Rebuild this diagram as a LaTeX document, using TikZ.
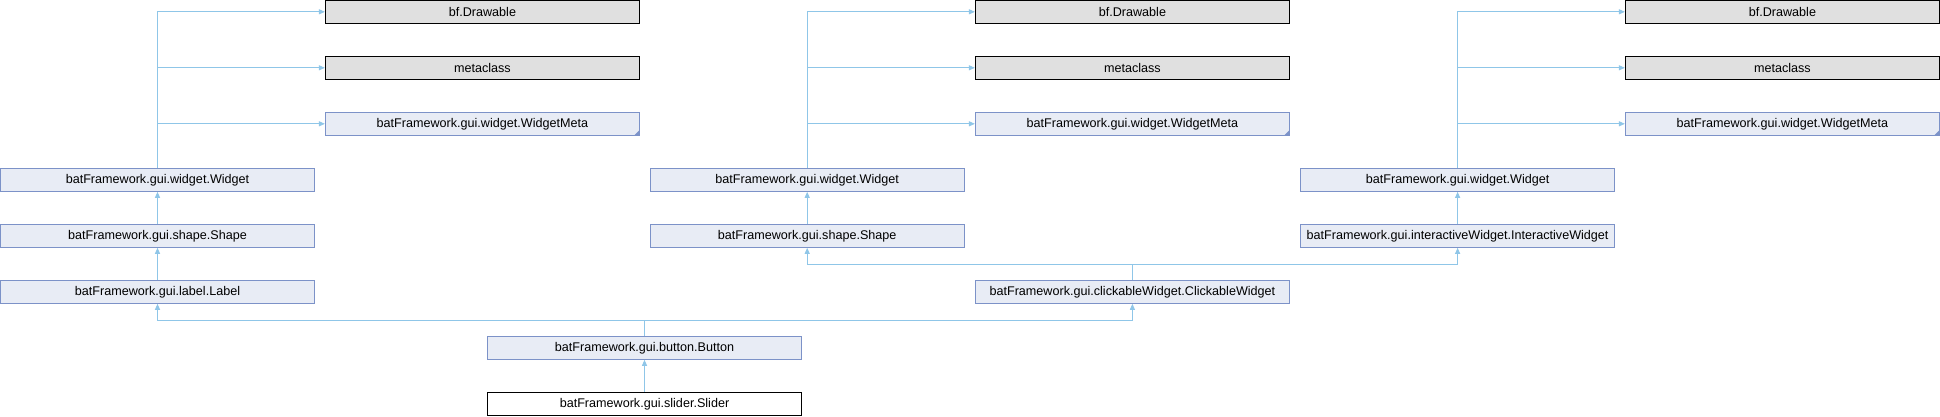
\documentclass[tikz,border=0pt]{standalone}
\usepackage{fontspec}
\setmainfont{Liberation Sans}
\usetikzlibrary{arrows.meta}
\definecolor{nodefill}{HTML}{E8ECF5}
\definecolor{nodeborder}{HTML}{7C92C8}
\definecolor{edgecol}{HTML}{8FC6E8}
\definecolor{extfill}{HTML}{E0E0E0}
\begin{document}
\begin{tikzpicture}[x=1pt,y=-1pt,
  box/.style={draw=nodeborder, fill=nodefill, line width=1pt, minimum width=314pt, minimum height=23pt, inner sep=0pt, font=\fontsize{12.6}{15}\selectfont},
  ext/.style={box, draw=black, fill=extfill},
  cur/.style={box, draw=black, fill=white},
  edge/.style={draw=edgecol, line width=1pt, -{Triangle[length=6pt,width=5pt]}},
  trunc/.style={fill=nodeborder}]
\useasboundingbox (0,0) rectangle (1940,416);

% left group
\node[ext] (d1) at (482.4,11.8) {bf.Drawable};
\node[ext] (m1) at (482.4,67.8) {metaclass};
\node[box] (wm1) at (482.4,123.8) {batFramework.gui.widget.WidgetMeta};
\node[box] (w1) at (157.5,179.8) {batFramework.gui.widget.Widget};
\node[box] (s1) at (157.5,235.8) {batFramework.gui.shape.Shape};
\node[box] (lab) at (157.5,291.8) {batFramework.gui.label.Label};

% middle group
\node[ext] (d2) at (1132.4,11.8) {bf.Drawable};
\node[ext] (m2) at (1132.4,67.8) {metaclass};
\node[box] (wm2) at (1132.4,123.8) {batFramework.gui.widget.WidgetMeta};
\node[box] (w2) at (807.2,179.8) {batFramework.gui.widget.Widget};
\node[box] (s2) at (807.2,235.8) {batFramework.gui.shape.Shape};
\node[box] (clk) at (1132.4,291.8) {batFramework.gui.clickableWidget.ClickableWidget};

% right group
\node[ext] (d3) at (1782.4,11.8) {bf.Drawable};
\node[ext] (m3) at (1782.4,67.8) {metaclass};
\node[box] (wm3) at (1782.4,123.8) {batFramework.gui.widget.WidgetMeta};
\node[box] (w3) at (1457.6,179.8) {batFramework.gui.widget.Widget};
\node[box] (iw) at (1457.6,235.8) {batFramework.gui.interactiveWidget.InteractiveWidget};

% bottom
\node[box] (btn) at (644.5,347.8) {batFramework.gui.button.Button};
\node[cur] (sld) at (644.5,403.8) {batFramework.gui.slider.Slider};

% truncation marks
\foreach \n in {wm1,wm2,wm3}
  \fill[trunc] (\n.south east) -- ++(-6,0) -- ++(6,-6) -- cycle;

% junctions
\coordinate (bj) at (644.5,320.3);
\coordinate (cj) at (1132.4,264.7);

% edges
\draw[edge] (sld.north) -- (btn.south);
\draw[edge] (btn.north) -- (bj) -| (lab.south);
\draw[edge] (btn.north) -- (bj) -| (clk.south);
\draw[edge] (lab.north) -- (s1.south);
\draw[edge] (s1.north) -- (w1.south);
\draw[edge] (w1.north) |- (d1.west);
\draw[edge] (w1.north) |- (m1.west);
\draw[edge] (w1.north) |- (wm1.west);

\draw[edge] (clk.north) -- (cj) -| (s2.south);
\draw[edge] (clk.north) -- (cj) -| (iw.south);
\draw[edge] (s2.north) -- (w2.south);
\draw[edge] (w2.north) |- (d2.west);
\draw[edge] (w2.north) |- (m2.west);
\draw[edge] (w2.north) |- (wm2.west);

\draw[edge] (iw.north) -- (w3.south);
\draw[edge] (w3.north) |- (d3.west);
\draw[edge] (w3.north) |- (m3.west);
\draw[edge] (w3.north) |- (wm3.west);
\end{tikzpicture}
\end{document}
